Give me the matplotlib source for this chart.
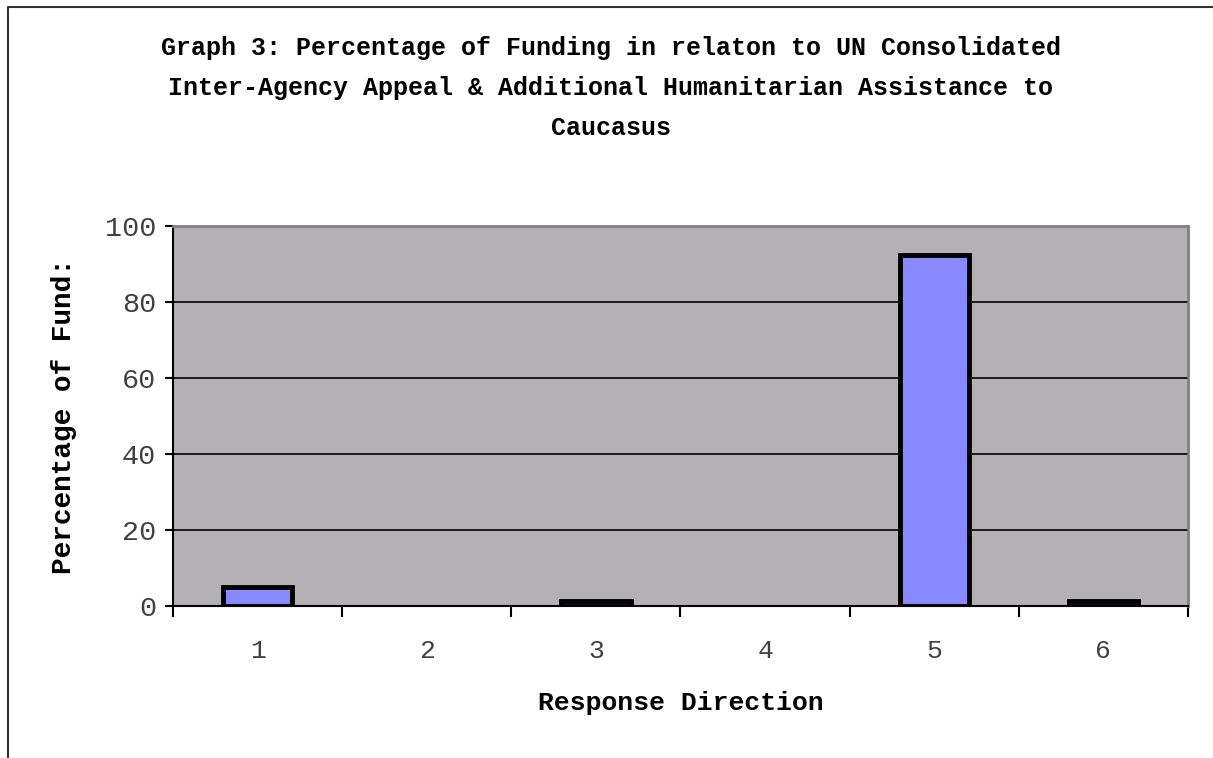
import matplotlib as mpl
import matplotlib.pyplot as plt
from matplotlib.lines import Line2D
import numpy as np

mpl.rcParams['font.family'] = ['Liberation Mono', 'DejaVu Sans Mono']

directions = [1, 2, 3, 4, 5, 6]
funding = [5, 0, 1.2, 0, 92.5, 1.2]

title = ('Graph 3: Percentage of Funding in relaton to UN Consolidated\n'
         'Inter-Agency Appeal & Additional Humanitarian Assistance to\n'
         'Caucasus')

fig = plt.figure(figsize=(12.13, 7.58), dpi=100)

# frame around the chart (left and top edges)
fig.add_artist(Line2D([8 / 1213, 8 / 1213, 1.0], [0.0, 1 - 7 / 758, 1 - 7 / 758],
                      transform=fig.transFigure, color='#333333', lw=1.5))

ax = fig.add_axes([173 / 1213, 1 - 606 / 758, 1015 / 1213, 380 / 758])
ax.set_facecolor('#b3b1b4')

for y in range(20, 100, 20):
    ax.axhline(y, color='#1a1a1a', lw=1.4, zorder=1)

widths = [0 if v == 0 else 3.5 for v in funding]
ax.bar(directions, funding, width=0.41, color='#8888ff', edgecolor='black',
       linewidth=widths, zorder=2)

ax.set_xlim(0.5, 6.5)
ax.set_ylim(0, 100)

ax.set_xticks(np.arange(0.5, 6.6, 1.0))
ax.set_xticklabels([])
ax.set_xticks(directions, minor=True)
ax.set_xticklabels([str(d) for d in directions], minor=True)
ax.tick_params(axis='x', which='major', direction='out', length=8, width=1.5)
ax.tick_params(axis='x', which='minor', length=0, pad=24, labelsize=19,
               labelcolor='#404040')
ax.set_yticks(range(0, 101, 20))
ax.tick_params(axis='y', direction='out', length=6, width=1.5, pad=6,
               labelsize=20.5, labelcolor='#404040')

for side in ['top', 'right']:
    ax.spines[side].set_color('#808080')
    ax.spines[side].set_linewidth(2)
for side in ['left', 'bottom']:
    ax.spines[side].set_color('black')
    ax.spines[side].set_linewidth(1.5)

ax.set_ylabel('Percentage of Fund:', fontsize=20, fontweight='bold', labelpad=20)
ax.set_xlabel('Response Direction', fontsize=19, fontweight='bold', labelpad=20)

fig.text(611 / 1213, 1 - 88 / 758, title, ha='center', va='center',
         fontsize=18, fontweight='bold', linespacing=1.85)

fig.savefig('out.png', dpi=100)
